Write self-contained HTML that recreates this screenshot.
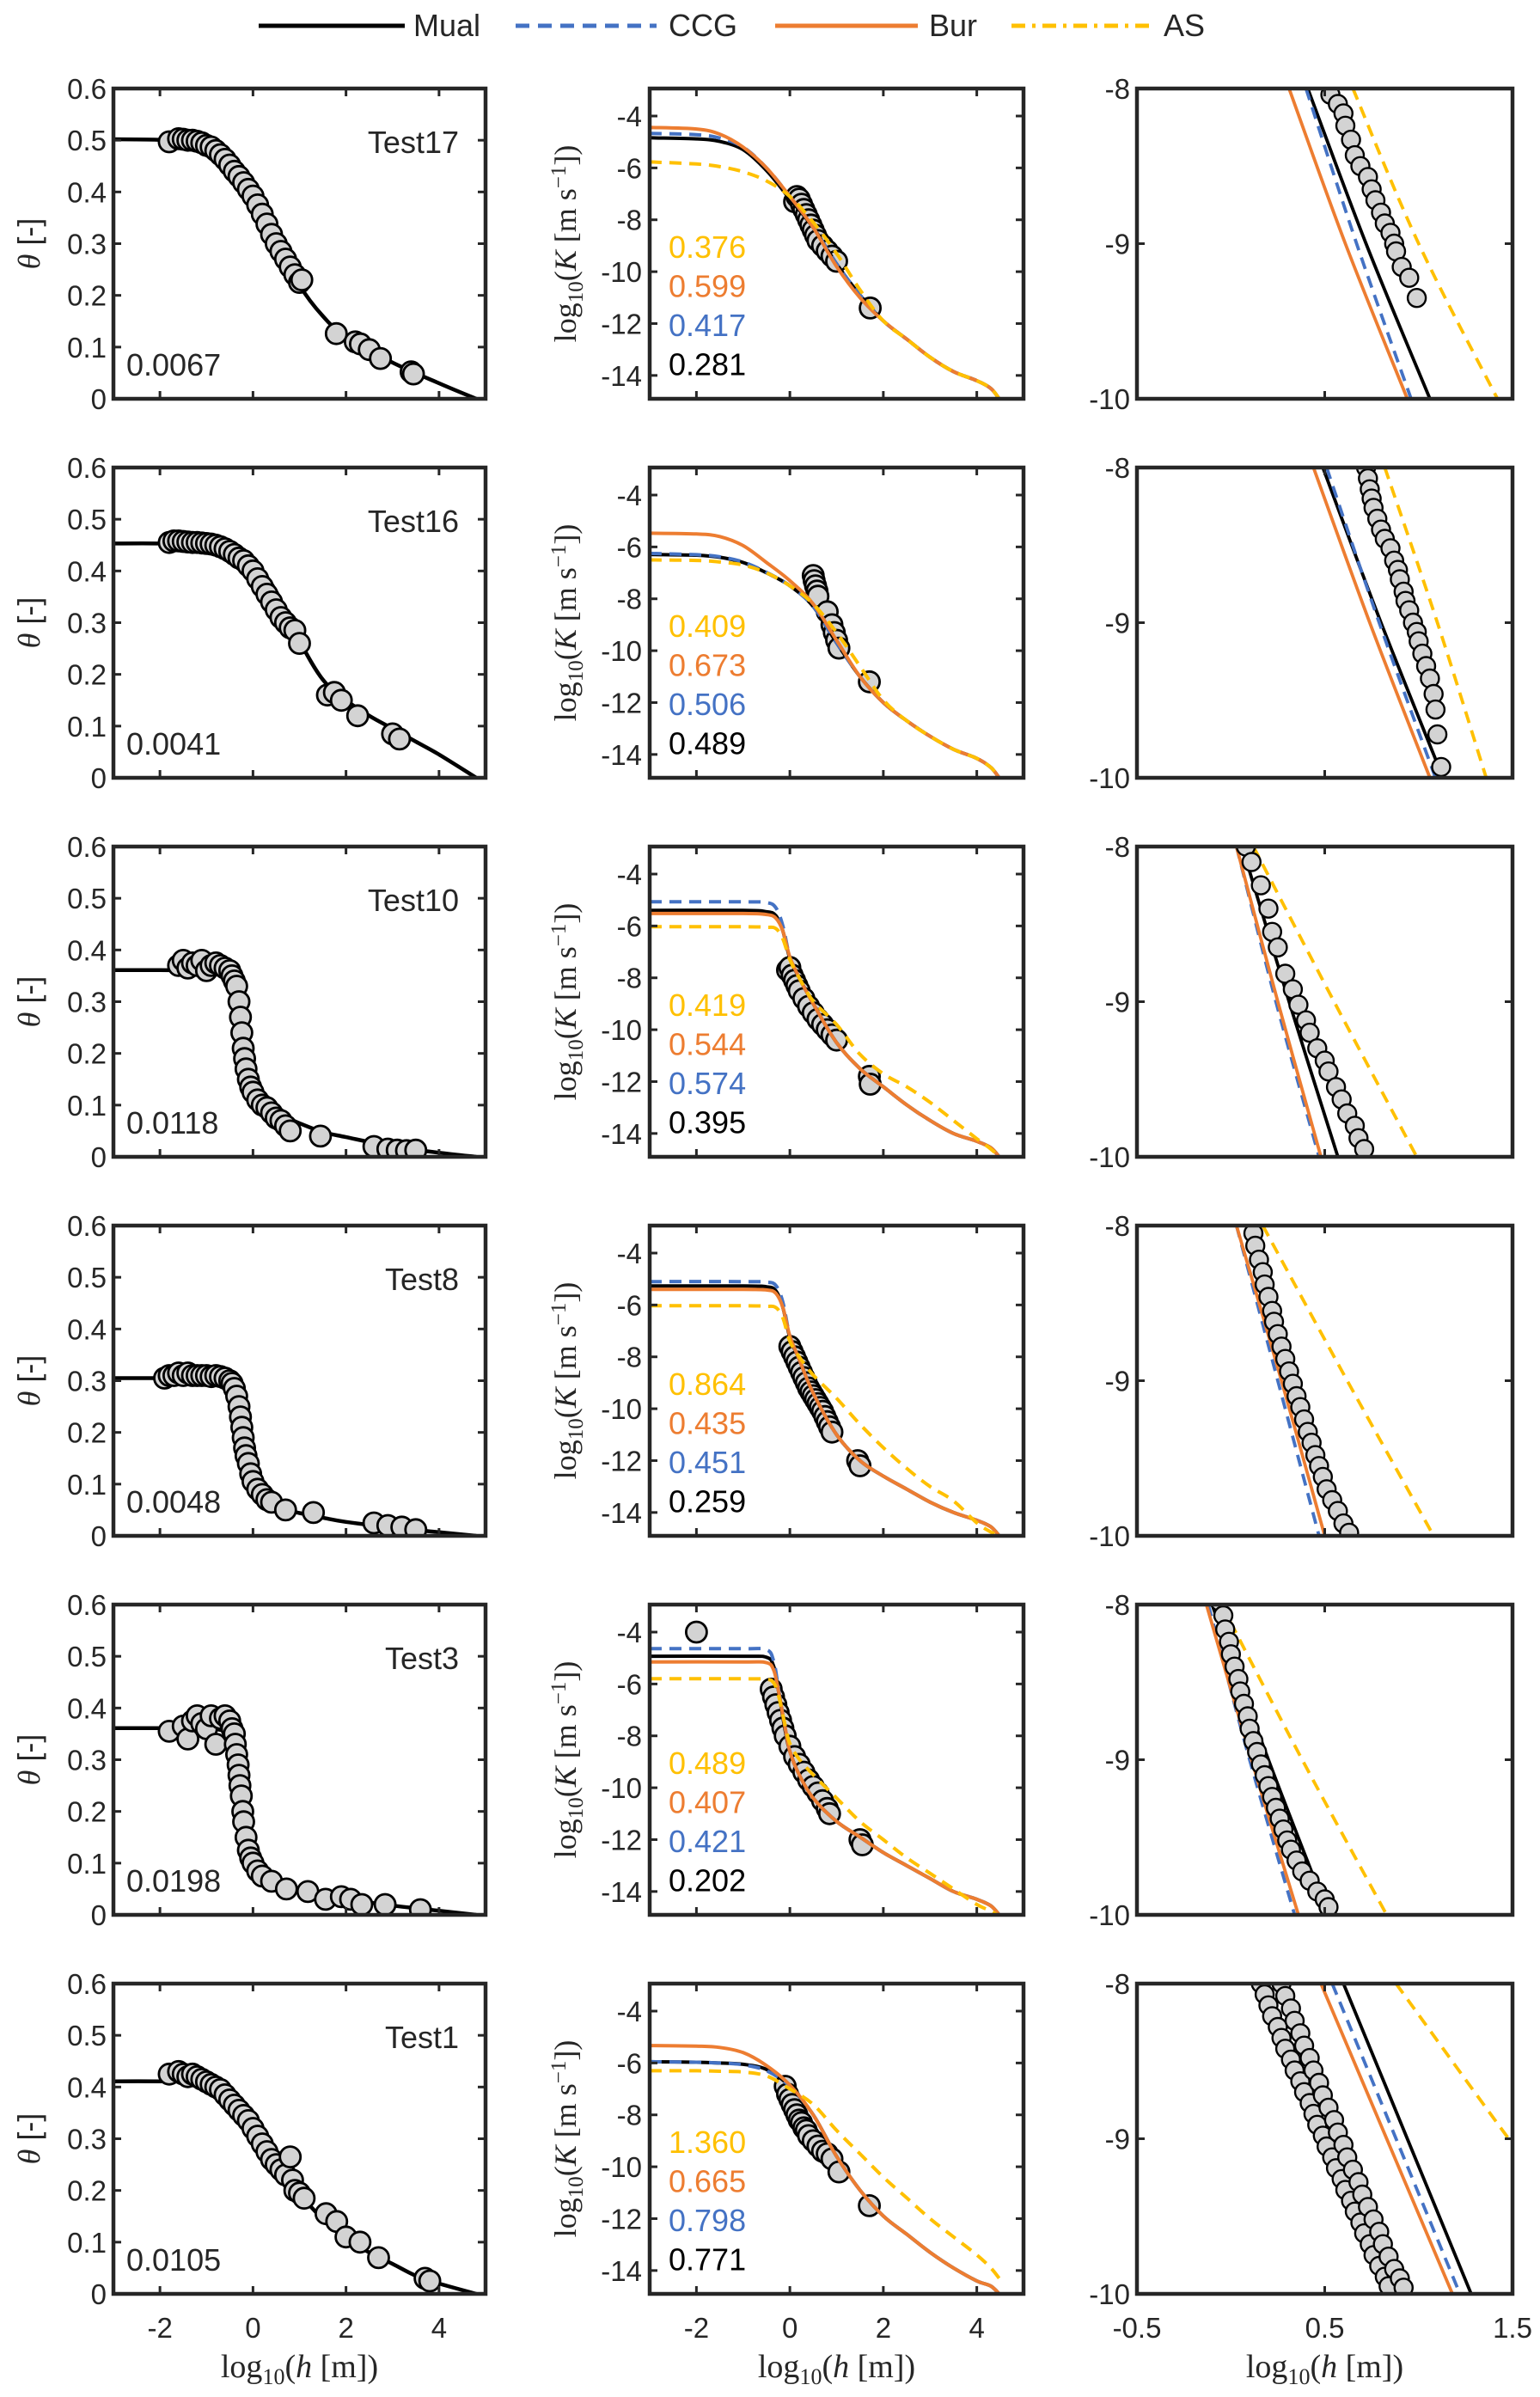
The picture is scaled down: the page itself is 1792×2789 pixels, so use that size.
<!DOCTYPE html>
<html><head><meta charset="utf-8">
<style>
html,body{margin:0;padding:0;background:#fff;}
svg{display:block;}
text{font-family:"Liberation Sans",sans-serif;fill:#262626;}
.serif{font-family:"Liberation Serif",serif;}
</style></head>
<body>
<svg id="fig" xmlns="http://www.w3.org/2000/svg" width="1792" height="2789" viewBox="0 0 1792 2789">
  <g id="legend">
    <g>
      <line x1="301" y1="30" x2="471" y2="30" stroke="#000" stroke-width="5"/>
      <text x="481" y="42" font-size="36">Mual</text>
    </g>
    <g>
      <line x1="600" y1="30" x2="764" y2="30" stroke="#4472C4" stroke-width="5" stroke-dasharray="16 10"/>
      <text x="778" y="42" font-size="36">CCG</text>
    </g>
    <g>
      <line x1="902" y1="30" x2="1068" y2="30" stroke="#ED7D31" stroke-width="5"/>
      <text x="1081" y="42" font-size="36">Bur</text>
    </g>
    <g>
      <line x1="1177" y1="30" x2="1338" y2="30" stroke="#FFC000" stroke-width="5" stroke-dasharray="16 8 4 8"/>
      <text x="1354" y="42" font-size="36">AS</text>
    </g>
  </g>
</svg>
<script>
const tests = ['Test17','Test16','Test10','Test8','Test3','Test1'];
const rmseTheta = ['0.0067','0.0041','0.0118','0.0048','0.0198','0.0105'];
const scoreAS = ['0.376','0.409','0.419','0.864','0.489','1.360'];
const scoreBur = ['0.599','0.673','0.544','0.435','0.407','0.665'];
const scoreCCG = ['0.417','0.506','0.574','0.451','0.421','0.798'];
const scoreMual = ['0.281','0.489','0.395','0.259','0.202','0.771'];

const thetaTicks = [0,0.1,0.2,0.3,0.4,0.5,0.6];
const thetaTickLabels = ['0','0.1','0.2','0.3','0.4','0.5','0.6'];
const hTicks = [-2,0,2,4];
const hTickLabels = ['-2','0','2','4'];
const kTicks = [-4,-6,-8,-10,-12,-14];
const kTickLabels = ['-4','-6','-8','-10','-12','-14'];
const zoomHTicks = [-0.5,0.5,1.5];
const zoomHTickLabels = ['-0.5','0.5','1.5'];
const zoomKTicks = [-8,-9,-10];
const zoomKTickLabels = ['-8','-9','-10'];

const thetaFitH = [
 [-3,-2,-1.5,-1,-0.5,0,0.5,1,1.5,2,3,4,4.8],
 [-3,-2,-1,-0.5,0,0.5,1,1.5,2,2.5,3,3.5,4,4.8],
 [-3,-2,-1,-0.6,-0.45,-0.35,-0.25,-0.1,0,0.2,0.5,1,1.5,2,3,4,4.8],
 [-3,-2,-1,-0.6,-0.45,-0.35,-0.25,-0.1,0,0.2,0.5,1,1.5,2,3,4,4.8],
 [-3,-2,-1,-0.6,-0.45,-0.38,-0.3,-0.2,-0.1,0,0.2,0.5,1,1.5,2,3,4,4.8],
 [-3,-2,-1.5,-1,-0.5,0,0.5,1,1.5,2,2.5,3,3.5,4,4.8]
];
const thetaFit = [
 [0.502,0.501,0.498,0.49,0.465,0.40,0.31,0.22,0.16,0.12,0.07,0.03,0],
 [0.453,0.453,0.45,0.44,0.42,0.36,0.265,0.19,0.15,0.12,0.095,0.07,0.045,0],
 [0.361,0.361,0.36,0.355,0.34,0.30,0.234,0.16,0.125,0.10,0.085,0.065,0.048,0.038,0.02,0.008,0],
 [0.305,0.305,0.304,0.30,0.29,0.26,0.19,0.125,0.088,0.068,0.055,0.044,0.035,0.027,0.016,0.007,0],
 [0.361,0.361,0.36,0.355,0.34,0.31,0.26,0.19,0.13,0.10,0.078,0.063,0.047,0.038,0.03,0.018,0.008,0],
 [0.411,0.411,0.41,0.405,0.385,0.345,0.26,0.195,0.145,0.11,0.08,0.058,0.035,0.02,0]
];
const obsThetaH = [
 [-1.8,-1.6,-1.5,-1.4,-1.3,-1.2,-1.1,-1.0,-0.9,-0.8,-0.7,-0.6,-0.5,-0.4,-0.3,-0.2,-0.1,0,0.1,0.2,0.3,0.4,0.5,0.6,0.7,0.8,0.9,1.0,1.05,1.79,2.2,2.31,2.5,2.74,3.4,3.45],
 [-1.8,-1.7,-1.6,-1.5,-1.4,-1.3,-1.2,-1.1,-1.0,-0.9,-0.8,-0.7,-0.6,-0.5,-0.4,-0.3,-0.2,-0.1,0,0.1,0.2,0.3,0.4,0.5,0.6,0.7,0.8,0.9,1.0,1.6,1.75,1.9,2.25,3.0,3.15],
 [-1.6,-1.5,-1.4,-1.3,-1.2,-1.1,-1.0,-0.9,-0.8,-0.7,-0.6,-0.5,-0.45,-0.4,-0.35,-0.3,-0.27,-0.24,-0.21,-0.18,-0.15,-0.1,-0.05,0.0,0.1,0.2,0.3,0.4,0.5,0.6,0.7,0.8,1.45,2.6,2.9,3.1,3.3,3.5],
 [-1.9,-1.8,-1.7,-1.6,-1.5,-1.4,-1.3,-1.2,-1.1,-1.0,-0.9,-0.8,-0.7,-0.6,-0.5,-0.45,-0.4,-0.35,-0.3,-0.27,-0.24,-0.21,-0.18,-0.15,-0.1,-0.05,0,0.1,0.2,0.3,0.4,0.7,1.3,2.6,2.9,3.2,3.5],
 [-1.8,-1.5,-1.4,-1.3,-1.2,-1.1,-1.0,-0.9,-0.8,-0.7,-0.6,-0.5,-0.45,-0.4,-0.38,-0.35,-0.32,-0.3,-0.28,-0.25,-0.22,-0.2,-0.15,-0.1,-0.05,0,0.1,0.2,0.4,0.72,1.18,1.56,1.9,2.1,2.34,2.84,3.6],
 [-1.8,-1.6,-1.5,-1.4,-1.3,-1.2,-1.1,-1.0,-0.9,-0.8,-0.7,-0.6,-0.5,-0.4,-0.3,-0.2,-0.1,0,0.1,0.2,0.3,0.4,0.5,0.6,0.7,0.8,0.85,0.9,1.0,1.1,1.57,1.8,2.0,2.3,2.7,3.7,3.8]
];
const obsTheta = [
 [0.497,0.503,0.502,0.5,0.5,0.498,0.495,0.49,0.487,0.48,0.472,0.463,0.452,0.44,0.43,0.418,0.405,0.392,0.375,0.357,0.338,0.318,0.3,0.285,0.27,0.255,0.24,0.225,0.23,0.126,0.11,0.106,0.095,0.078,0.052,0.048],
 [0.455,0.458,0.458,0.457,0.456,0.455,0.455,0.454,0.453,0.452,0.45,0.447,0.443,0.438,0.432,0.425,0.42,0.41,0.4,0.385,0.37,0.355,0.34,0.325,0.31,0.3,0.29,0.285,0.26,0.16,0.165,0.15,0.12,0.085,0.075],
 [0.37,0.38,0.365,0.375,0.37,0.38,0.36,0.37,0.375,0.37,0.365,0.36,0.35,0.34,0.33,0.3,0.27,0.24,0.21,0.19,0.17,0.15,0.135,0.125,0.11,0.1,0.095,0.085,0.075,0.07,0.06,0.05,0.04,0.02,0.015,0.013,0.012,0.013],
 [0.305,0.31,0.31,0.315,0.31,0.315,0.31,0.31,0.31,0.31,0.308,0.31,0.308,0.305,0.3,0.295,0.285,0.27,0.25,0.23,0.21,0.19,0.17,0.155,0.14,0.12,0.105,0.09,0.08,0.07,0.065,0.05,0.045,0.025,0.02,0.017,0.012],
 [0.355,0.365,0.34,0.375,0.385,0.37,0.36,0.385,0.33,0.38,0.385,0.375,0.36,0.35,0.33,0.31,0.29,0.27,0.25,0.23,0.2,0.18,0.15,0.125,0.11,0.1,0.085,0.075,0.065,0.05,0.045,0.03,0.035,0.03,0.02,0.02,0.01],
 [0.425,0.43,0.425,0.42,0.425,0.42,0.415,0.41,0.405,0.4,0.395,0.385,0.375,0.365,0.355,0.345,0.335,0.32,0.305,0.29,0.275,0.26,0.25,0.24,0.23,0.265,0.22,0.2,0.195,0.185,0.155,0.14,0.11,0.1,0.07,0.03,0.025]
];

const kFitH = [
 [-3,-2,-1.5,-1,-0.5,0,0.5,1,1.5,2,2.5,3,3.5,4,4.3,4.48],
 [-3,-2,-1.5,-1,-0.5,0,0.5,1,1.5,2,2.5,3,3.5,4,4.3,4.48],
 [-3,-1,-0.5,-0.3,-0.15,0,0.2,0.5,1,1.5,2,2.5,3,3.5,4,4.3,4.48],
 [-3,-1,-0.5,-0.3,-0.15,0,0.2,0.5,1,1.5,2,2.5,3,3.5,4,4.3,4.48],
 [-3,-1,-0.5,-0.35,-0.25,-0.1,0,0.2,0.5,1,1.5,2,2.5,3,3.5,4,4.3,4.48],
 [-3,-2,-1.5,-1,-0.5,0,0.5,1,1.5,2,2.5,3,3.5,4,4.3,4.48]
];
const kMual = [
 [-4.84,-4.88,-4.98,-5.3,-6.1,-7.2,-8.3,-9.7,-10.9,-11.9,-12.6,-13.3,-13.85,-14.2,-14.5,-14.9],
 [-6.29,-6.32,-6.4,-6.6,-7.0,-7.5,-8.3,-9.7,-11.0,-12.0,-12.7,-13.3,-13.8,-14.15,-14.5,-14.9],
 [-5.4,-5.4,-5.45,-5.6,-6.2,-7.25,-8.0,-9.0,-10.5,-11.5,-12.2,-12.9,-13.5,-14.0,-14.3,-14.55,-14.9],
 [-5.27,-5.27,-5.3,-5.45,-6.1,-7.25,-8.1,-9.4,-11.0,-12.0,-12.6,-13.1,-13.6,-14.0,-14.3,-14.55,-14.9],
 [-4.93,-4.93,-4.97,-5.3,-6.2,-7.8,-8.6,-9.5,-10.4,-11.3,-11.9,-12.5,-13.0,-13.5,-14.0,-14.3,-14.55,-14.9],
 [-5.95,-5.97,-6.0,-6.05,-6.25,-6.9,-8.0,-9.6,-10.9,-11.9,-12.6,-13.3,-13.9,-14.4,-14.6,-14.9]
];
const kCCG = [
 [-4.67,-4.72,-4.85,-5.2,-6.0,-7.1,-8.3,-9.7,-10.9,-11.9,-12.6,-13.3,-13.85,-14.2,-14.5,-14.9],
 [-6.25,-6.3,-6.38,-6.58,-6.98,-7.5,-8.3,-9.7,-11.0,-12.0,-12.7,-13.3,-13.8,-14.15,-14.5,-14.9],
 [-5.07,-5.07,-5.1,-5.3,-6.0,-7.2,-8.0,-9.0,-10.5,-11.5,-12.2,-12.9,-13.5,-14.0,-14.3,-14.55,-14.9],
 [-5.1,-5.1,-5.12,-5.25,-5.9,-7.2,-8.1,-9.4,-11.0,-12.0,-12.6,-13.1,-13.6,-14.0,-14.3,-14.55,-14.9],
 [-4.64,-4.64,-4.68,-5.1,-6.1,-7.7,-8.6,-9.5,-10.4,-11.3,-11.9,-12.5,-13.0,-13.5,-14.0,-14.3,-14.55,-14.9],
 [-5.95,-5.97,-6.0,-6.07,-6.3,-6.9,-8.0,-9.6,-10.9,-11.9,-12.6,-13.3,-13.9,-14.4,-14.6,-14.9]
];
const kBur = [
 [-4.44,-4.5,-4.7,-5.2,-6.0,-7.1,-8.3,-9.8,-11.0,-11.9,-12.6,-13.3,-13.85,-14.2,-14.5,-14.9],
 [-5.47,-5.5,-5.6,-5.95,-6.6,-7.3,-8.2,-9.6,-11.0,-12.0,-12.7,-13.3,-13.8,-14.15,-14.5,-14.9],
 [-5.52,-5.52,-5.56,-5.7,-6.2,-7.2,-8.0,-9.0,-10.5,-11.5,-12.2,-12.9,-13.5,-14.0,-14.3,-14.55,-14.9],
 [-5.4,-5.4,-5.42,-5.55,-6.1,-7.2,-8.1,-9.4,-11.0,-12.0,-12.6,-13.1,-13.6,-14.0,-14.3,-14.55,-14.9],
 [-5.15,-5.15,-5.18,-5.45,-6.2,-7.7,-8.6,-9.5,-10.4,-11.3,-11.9,-12.5,-13.0,-13.5,-14.0,-14.3,-14.55,-14.9],
 [-5.33,-5.35,-5.4,-5.6,-6.1,-6.85,-8.0,-9.6,-10.9,-11.9,-12.6,-13.3,-13.9,-14.4,-14.6,-14.9]
];
const kAS = [
 [-5.77,-5.85,-5.95,-6.15,-6.5,-7.1,-8.1,-9.3,-10.7,-11.9,-12.6,-13.3,-13.85,-14.2,-14.5,-14.9],
 [-6.5,-6.52,-6.58,-6.7,-7.0,-7.5,-8.2,-9.3,-10.6,-11.9,-12.7,-13.3,-13.8,-14.15,-14.5,-14.9],
 [-6.03,-6.03,-6.05,-6.1,-6.5,-7.3,-8.0,-8.9,-9.8,-10.95,-11.7,-12.2,-12.8,-13.5,-14.2,-14.6,-14.9],
 [-6.03,-6.03,-6.05,-6.1,-6.5,-7.4,-8.0,-8.7,-9.6,-10.6,-11.5,-12.3,-13.0,-13.55,-14.4,-14.75,-14.9],
 [-5.8,-5.8,-5.82,-5.95,-6.4,-7.6,-8.3,-8.9,-9.5,-10.4,-11.3,-12.0,-12.7,-13.3,-13.9,-14.5,-14.75,-14.95],
 [-6.3,-6.3,-6.32,-6.35,-6.5,-7.0,-7.6,-8.6,-9.5,-10.4,-11.2,-12.0,-12.7,-13.4,-13.9,-14.3]
];
const obsKH = [
 [0.1,0.15,0.2,0.25,0.3,0.35,0.4,0.45,0.5,0.55,0.6,0.7,0.8,0.9,1.0,1.72],
 [0.5,0.52,0.55,0.58,0.6,0.8,0.9,0.95,1.0,1.05,1.7],
 [-0.05,0.0,0.05,0.1,0.15,0.2,0.3,0.4,0.5,0.6,0.7,0.8,0.9,1.0,1.7,1.72],
 [0.0,0.05,0.1,0.15,0.2,0.25,0.3,0.35,0.4,0.45,0.5,0.55,0.6,0.65,0.7,0.75,0.8,0.85,0.9,1.45,1.5],
 [-2.0,-0.4,-0.35,-0.3,-0.25,-0.2,-0.15,-0.1,0.0,0.1,0.2,0.3,0.4,0.5,0.6,0.7,0.8,0.85,1.5,1.55],
 [-0.1,-0.05,0,0.05,0.1,0.15,0.2,0.25,0.3,0.35,0.4,0.5,0.6,0.7,0.8,0.9,1.05,1.7]
];
const obsK = [
 [-7.3,-7.1,-7.2,-7.4,-7.6,-7.8,-8.0,-8.2,-8.4,-8.6,-8.8,-9.0,-9.2,-9.4,-9.6,-11.4],
 [-7.1,-7.3,-7.5,-7.7,-7.9,-8.5,-9.0,-9.3,-9.6,-9.9,-11.2],
 [-7.7,-7.6,-7.9,-8.1,-8.3,-8.5,-8.8,-9.1,-9.35,-9.6,-9.8,-10.0,-10.2,-10.4,-11.8,-12.1],
 [-7.6,-7.8,-8.0,-8.2,-8.4,-8.6,-8.8,-9.0,-9.2,-9.35,-9.5,-9.65,-9.8,-9.95,-10.1,-10.3,-10.5,-10.7,-10.9,-12.0,-12.2],
 [-4.0,-6.2,-6.5,-6.8,-7.1,-7.4,-7.7,-8.0,-8.4,-8.8,-9.1,-9.4,-9.7,-9.95,-10.2,-10.5,-10.8,-11.0,-12.0,-12.2],
 [-6.9,-7.2,-7.4,-7.6,-7.8,-8.0,-8.2,-8.3,-8.5,-8.6,-8.8,-9.0,-9.2,-9.4,-9.5,-9.7,-10.2,-11.5]
];

const zoomK = [-8,-9,-10];
const zMual = [[0.41,0.72,1.06],[0.49,0.80,1.13],[0.06,0.31,0.57],[0.095,0.35,0.61],[-0.1,0.2,0.52],[0.6,0.94,1.28]];
const zCCG = [[0.40,0.67,0.96],[0.51,0.79,1.09],[0.03,0.24,0.47],[0.03,0.25,0.47],[-0.12,0.1,0.34],[0.54,0.88,1.22]];
const zBur = [[0.31,0.61,0.94],[0.44,0.74,1.06],[0.03,0.25,0.48],[0.03,0.27,0.50],[-0.13,0.11,0.36],[0.48,0.83,1.18]];
const zAS = [[0.65,1.0,1.42],[0.82,1.1,1.36],[0.12,0.55,0.99],[0.17,0.62,1.08],[-0.05,0.38,0.83],[0.88,1.48,2.1]];
const zObsH = [
 [0.53,0.57,0.6,0.61,0.64,0.66,0.69,0.73,0.75,0.77,0.8,0.82,0.85,0.87,0.88,0.91,0.95,0.99],
 [0.71,0.72,0.73,0.74,0.75,0.76,0.78,0.8,0.82,0.85,0.87,0.89,0.9,0.92,0.93,0.95,0.97,0.99,1.0,1.02,1.04,1.06,1.08,1.09,1.1,1.12],
 [0.08,0.11,0.16,0.2,0.22,0.25,0.29,0.33,0.36,0.4,0.42,0.46,0.5,0.52,0.56,0.59,0.62,0.66,0.68,0.71],
 [0.1,0.12,0.13,0.15,0.17,0.18,0.2,0.22,0.23,0.25,0.27,0.29,0.31,0.33,0.35,0.37,0.39,0.41,0.43,0.45,0.47,0.49,0.51,0.54,0.57,0.6,0.63],
 [-0.06,-0.04,-0.03,-0.01,0.0,0.02,0.04,0.05,0.07,0.09,0.1,0.12,0.14,0.16,0.18,0.2,0.22,0.24,0.26,0.28,0.3,0.32,0.35,0.38,0.42,0.46,0.5,0.52],
 [0.16,0.18,0.2,0.22,0.25,0.27,0.29,0.32,0.34,0.37,0.39,0.42,0.44,0.46,0.49,0.51,0.54,0.56,0.59,0.61,0.64,0.66,0.69,0.71,0.74,0.76,0.79,0.82,0.84,0.27,0.29,0.32,0.34,0.37,0.39,0.42,0.44,0.47,0.49,0.52,0.55,0.57,0.6,0.62,0.65,0.68,0.7,0.73,0.76,0.79,0.81,0.84,0.87,0.9,0.92]
];
const zObsK = [
 [-8.04,-8.1,-8.16,-8.24,-8.33,-8.43,-8.5,-8.57,-8.65,-8.72,-8.8,-8.87,-8.93,-9.0,-9.05,-9.15,-9.22,-9.35],
 [-7.93,-8.0,-8.07,-8.14,-8.2,-8.26,-8.33,-8.4,-8.46,-8.52,-8.6,-8.66,-8.72,-8.8,-8.86,-8.92,-9.0,-9.06,-9.12,-9.2,-9.28,-9.36,-9.46,-9.56,-9.72,-9.93],
 [-8.0,-8.1,-8.25,-8.4,-8.55,-8.65,-8.82,-8.92,-9.02,-9.12,-9.2,-9.3,-9.38,-9.45,-9.55,-9.63,-9.72,-9.8,-9.88,-9.95],
 [-7.95,-8.05,-8.13,-8.22,-8.3,-8.38,-8.46,-8.55,-8.62,-8.7,-8.78,-8.86,-8.94,-9.02,-9.1,-9.17,-9.25,-9.33,-9.4,-9.48,-9.55,-9.62,-9.7,-9.77,-9.84,-9.92,-9.98],
 [-7.98,-8.07,-8.16,-8.24,-8.32,-8.4,-8.48,-8.56,-8.64,-8.72,-8.8,-8.88,-8.95,-9.03,-9.1,-9.17,-9.24,-9.31,-9.38,-9.45,-9.52,-9.58,-9.65,-9.72,-9.78,-9.85,-9.9,-9.95],
 [-8.0,-8.07,-8.14,-8.21,-8.28,-8.35,-8.42,-8.49,-8.56,-8.63,-8.7,-8.77,-8.84,-8.91,-8.98,-9.05,-9.12,-9.19,-9.26,-9.33,-9.4,-9.47,-9.54,-9.61,-9.68,-9.75,-9.82,-9.89,-9.95,-8.0,-8.08,-8.16,-8.24,-8.32,-8.4,-8.48,-8.56,-8.64,-8.72,-8.8,-8.88,-8.96,-9.04,-9.12,-9.2,-9.28,-9.36,-9.44,-9.52,-9.6,-9.68,-9.76,-9.84,-9.9,-9.96]
];

const NS = 'http://www.w3.org/2000/svg';
const svg = document.getElementById('fig');
const COL = {mual:'#000000', ccg:'#4472C4', bur:'#ED7D31', as:'#FFC000'};
const colX = [[132,565],[756,1191],[1323,1760]];
const xDom = [[-3,5],[-3,5],[-0.5,1.5]];
const yDom = [[0,0.6],[-14.9,-2.94],[-10,-8]];
const ROW0 = 103, ROWSTEP = 441, PH = 361;

function mk(tag, attrs, parent){
  const e = document.createElementNS(NS, tag);
  for (const k in attrs) e.setAttribute(k, attrs[k]);
  (parent || svg).appendChild(e);
  return e;
}
function scaleX(c, v){ const d=xDom[c], r=colX[c]; return r[0] + (v-d[0])/(d[1]-d[0])*(r[1]-r[0]); }
function scaleY(c, row, v){ const d=yDom[c]; const top=ROW0+row*ROWSTEP; return top+PH - (v-d[0])/(d[1]-d[0])*PH; }

function smoothPath(pts){
  let d = 'M' + pts[0][0].toFixed(1) + ',' + pts[0][1].toFixed(1);
  for (let i=0;i<pts.length-1;i++){
    const p0 = pts[i-1]||pts[i], p1=pts[i], p2=pts[i+1], p3=pts[i+2]||pts[i+1];
    const c1x = p1[0]+(p2[0]-p0[0])/6, c1y = p1[1]+(p2[1]-p0[1])/6;
    const c2x = p2[0]-(p3[0]-p1[0])/6, c2y = p2[1]-(p3[1]-p1[1])/6;
    d += ' C'+c1x.toFixed(1)+','+c1y.toFixed(1)+' '+c2x.toFixed(1)+','+c2y.toFixed(1)+' '+p2[0].toFixed(1)+','+p2[1].toFixed(1);
  }
  return d;
}

function drawCurve(g, c, row, xs, ys, color, dash, width){
  const pts = xs.map((x,i)=>[scaleX(c,x), scaleY(c,row,ys[i])]);
  const p = mk('path', {d:smoothPath(pts), fill:'none', stroke:color, 'stroke-width':width, 'stroke-linejoin':'round'}, g);
  if (dash) p.setAttribute('stroke-dasharray', dash);
  return p;
}

function drawFrameTicks(g, c, row, xt, yt){
  const top=ROW0+row*ROWSTEP, bot=top+PH, L=colX[c][0], R=colX[c][1];
  xt.forEach(v=>{
    const x = scaleX(c,v);
    const t1 = mk('line',{x1:x,y1:bot,x2:x,y2:bot-9,stroke:'#262626','stroke-width':3},g);
    
    
    mk('line',{x1:x,y1:top,x2:x,y2:top+9,stroke:'#262626','stroke-width':3},g);
  });
  yt.forEach(v=>{
    const y = scaleY(c,row,v);
    const t2 = mk('line',{x1:L,y1:y,x2:L+9,y2:y,stroke:'#262626','stroke-width':3},g);
    
    
    mk('line',{x1:R,y1:y,x2:R-9,y2:y,stroke:'#262626','stroke-width':3},g);
  });
  const fr = mk('rect',{x:L,y:top,width:R-L,height:PH,fill:'none',stroke:'#262626','stroke-width':4.5},g);
  
  
}

function yTickLabels(g, c, row, vals, labels, xr){
  vals.forEach((v,i)=>{
    const t = mk('text',{x:xr,y:scaleY(c,row,v)+12,'font-size':33,'text-anchor':'end'},g);
    
    
    t.textContent = labels[i];
  });
}

function circles(g, c, row, xs, ys, r, sw){
  xs.forEach((x,i)=>{
    const ci = mk('circle',{cx:scaleX(c,x).toFixed(1), cy:scaleY(c,row,ys[i]).toFixed(1), r:r, fill:'#D3D3D3', stroke:'#000', 'stroke-width':sw},g);
    
    
  });
}

const defs = mk('defs',{});
for (let row=0; row<6; row++){
  for (let c=0;c<3;c++){
    const top=ROW0+row*ROWSTEP;
    const cp = mk('clipPath',{id:'clip'+row+'_'+c},defs);
    mk('rect',{x:colX[c][0],y:top,width:colX[c][1]-colX[c][0],height:PH},cp);
  }
}

for (let row=0; row<6; row++){
  const top = ROW0+row*ROWSTEP, bot = top+PH;
  const last = row===5;

  const g1 = mk('g',{});
  
  
  const c1 = mk('g',{'clip-path':'url(#clip'+row+'_0)'},g1);
  drawCurve(c1,0,row,thetaFitH[row],thetaFit[row],'#000',null,4.5);
  circles(c1,0,row,obsThetaH[row],obsTheta[row],12,2.8);
  drawFrameTicks(g1,0,row,hTicks,thetaTicks);
  yTickLabels(g1,0,row,thetaTicks,thetaTickLabels,124);
  const tl = mk('text',{x:534,y:top+75,'font-size':36,'text-anchor':'end'},g1);
  
  
  tl.textContent = tests[row];
  const rm = mk('text',{x:147,y:top+334,'font-size':36},g1);
  
  
  rm.textContent = rmseTheta[row];
  const yl1 = mk('text',{x:0,y:0,'font-size':36,'text-anchor':'middle',transform:'translate(46,'+(top+PH/2)+') rotate(-90)'},g1);
  
  
  yl1.innerHTML = '<tspan font-family="Liberation Serif, serif" font-style="italic">θ</tspan> [-]';

  const g2 = mk('g',{});
  
  
  const c2 = mk('g',{'clip-path':'url(#clip'+row+'_1)'},g2);
  circles(c2,1,row,obsKH[row],obsK[row],12,2.8);
  drawCurve(c2,1,row,kFitH[row],kMual[row],COL.mual,null,4);
  drawCurve(c2,1,row,kFitH[row],kCCG[row],COL.ccg,'14 9',4);
  drawCurve(c2,1,row,kFitH[row],kBur[row],COL.bur,null,4);
  drawCurve(c2,1,row,kFitH[row],kAS[row],COL.as,'14 9',4);
  drawFrameTicks(g2,1,row,hTicks,kTicks);
  yTickLabels(g2,1,row,kTicks,kTickLabels,747);
  const sc = [[scoreAS,COL.as],[scoreBur,COL.bur],[scoreCCG,COL.ccg],[scoreMual,'#000']];
  sc.forEach((s,i)=>{
    const t = mk('text',{x:778,y:top+197+i*45.5,'font-size':36},g2);
    
    
    t.style.fill = s[1];
    t.textContent = s[0][row];
  });
  const yl2 = mk('text',{x:0,y:0,'font-size':36,'text-anchor':'middle',class:'serif',transform:'translate(670,'+(top+PH/2)+') rotate(-90)'},g2);
  
  
  yl2.innerHTML = 'log<tspan font-size="25" dy="8">10</tspan><tspan dy="-8">(</tspan><tspan font-style="italic">K</tspan> [m s<tspan font-size="25" dy="-12">−1</tspan><tspan dy="12">])</tspan>';

  const g3 = mk('g',{});
  
  
  const c3 = mk('g',{'clip-path':'url(#clip'+row+'_2)'},g3);
  drawCurve(c3,2,row,zMual[row],zoomK,COL.mual,null,3.8);
  drawCurve(c3,2,row,zCCG[row],zoomK,COL.ccg,'14 9',3.8);
  drawCurve(c3,2,row,zBur[row],zoomK,COL.bur,null,3.8);
  drawCurve(c3,2,row,zAS[row],zoomK,COL.as,'14 9',3.8);
  circles(c3,2,row,zObsH[row],zObsK[row],10.5,2.4);
  drawFrameTicks(g3,2,row,zoomHTicks,zoomKTicks);
  yTickLabels(g3,2,row,zoomKTicks,zoomKTickLabels,1315);

  if (last){
    [[0,hTicks,hTickLabels],[1,hTicks,hTickLabels],[2,zoomHTicks,zoomHTickLabels]].forEach(a=>{
      a[1].forEach((v,i)=>{
        const t = mk('text',{x:scaleX(a[0],v),y:bot+51,'font-size':33,'text-anchor':'middle'});
        
        
        t.textContent = a[2][i];
      });
      const cx = (colX[a[0]][0]+colX[a[0]][1])/2;
      const xl = mk('text',{x:cx,y:bot+97,'font-size':38,'text-anchor':'middle',class:'serif'});
      
      
      xl.innerHTML = 'log<tspan font-size="26" dy="8">10</tspan><tspan dy="-8">(</tspan><tspan font-style="italic">h</tspan> [m])';
    });
  }
}
svg.appendChild(document.getElementById('legend'));
</script>
</body></html>
